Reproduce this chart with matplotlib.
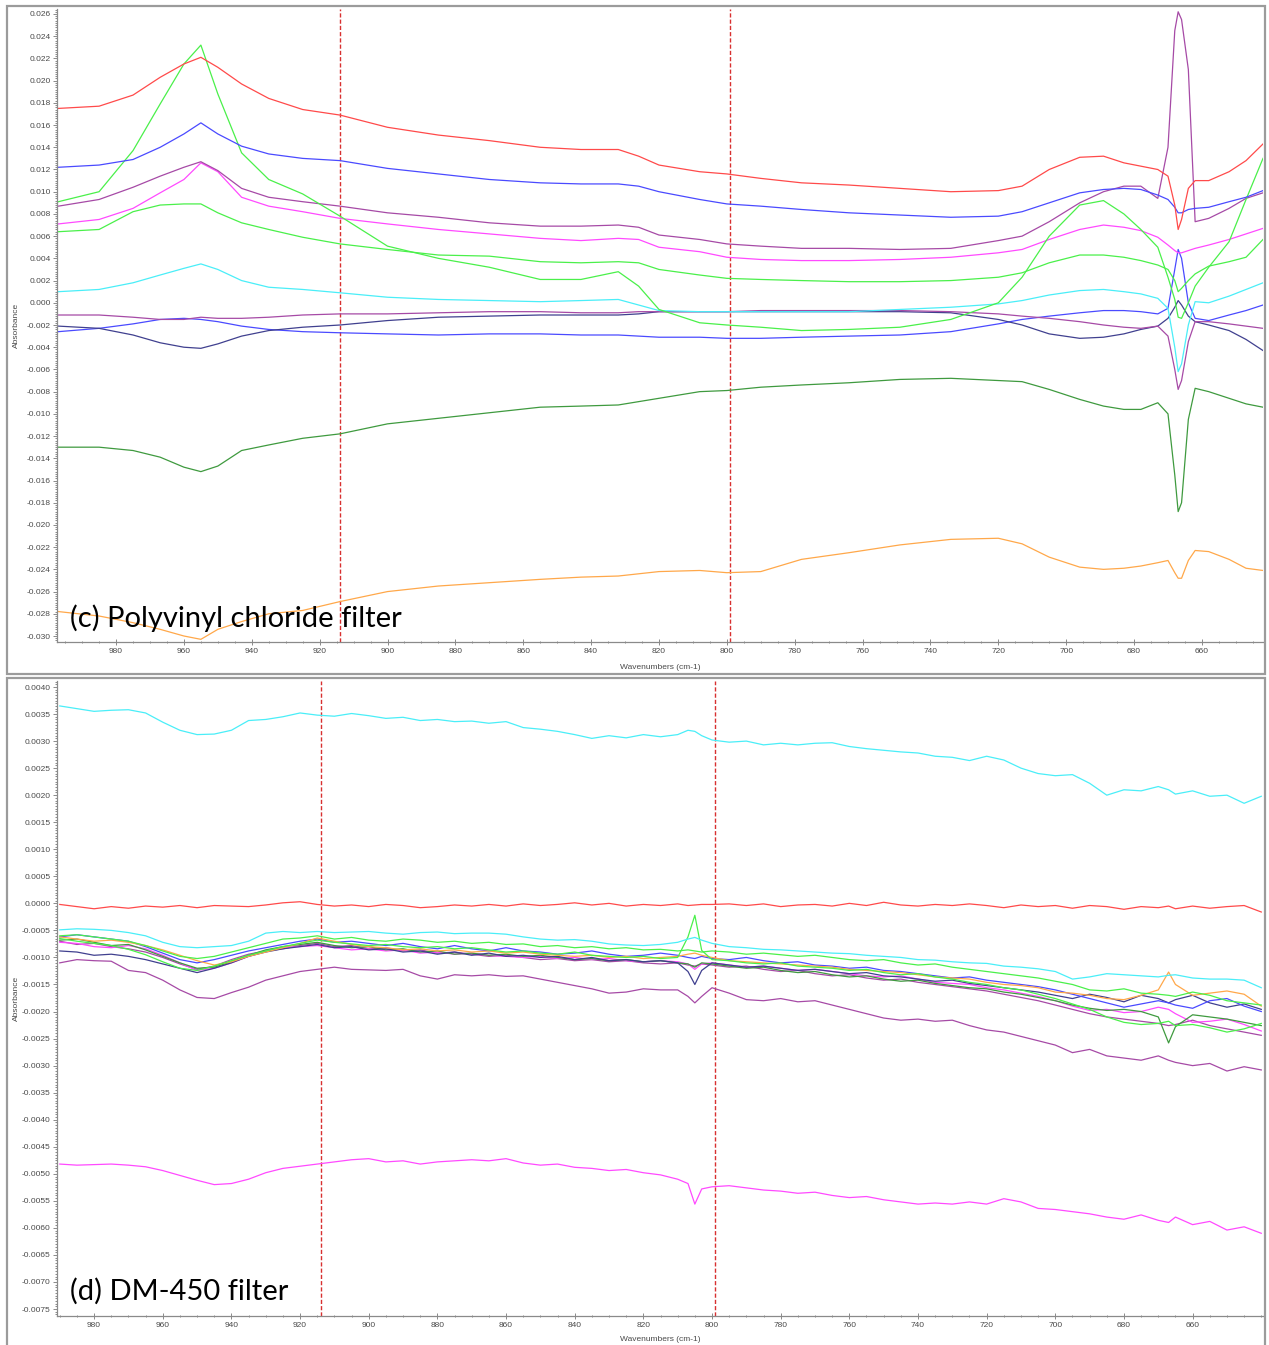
import numpy as np
import matplotlib.pyplot as plt
from matplotlib.patches import Rectangle
from matplotlib.ticker import MultipleLocator, FuncFormatter

# ---- panel (c): PVC filter, absorbance ----
WN_C = [997, 985, 975, 967, 960, 955, 950, 943, 935, 925,
        914, 900, 885, 870, 855, 843, 832, 826, 820, 808,
        800, 790, 778, 764, 749, 734, 720, 713, 705, 696,
        689, 683, 678, 673, 670, 668, 667, 666, 664, 662,
        658, 652, 647, 642]

C_RED = [0.0175, 0.0177, 0.0187, 0.0203, 0.0215, 0.0221, 0.0212, 0.0197, 0.0184, 0.0174,
         0.0169, 0.0158, 0.0151, 0.0146, 0.0140, 0.0138, 0.0138, 0.0132, 0.0124, 0.0118,
         0.0116, 0.0112, 0.0108, 0.0106, 0.0103, 0.0100, 0.0101, 0.0105, 0.0120, 0.0131,
         0.0132, 0.0126, 0.0123, 0.0120, 0.0114, 0.0088, 0.0066, 0.0075, 0.0103, 0.0110,
         0.0110, 0.0118, 0.0128, 0.0143]
C_BLUE = [0.0122, 0.0124, 0.0129, 0.0140, 0.0152, 0.0162, 0.0152, 0.0141, 0.0134, 0.0130,
          0.0128, 0.0121, 0.0116, 0.0111, 0.0108, 0.0107, 0.0107, 0.0105, 0.0100, 0.0093,
          0.0089, 0.0087, 0.0084, 0.0081, 0.0079, 0.0077, 0.0078, 0.0082, 0.0090, 0.0099,
          0.0102, 0.0103, 0.0102, 0.0097, 0.0093, 0.0086, 0.0081, 0.0081, 0.0084, 0.0085,
          0.0086, 0.0091, 0.0095, 0.0101]
C_GREEN1 = [0.0091, 0.0100, 0.0137, 0.0179, 0.0215, 0.0232, 0.0188, 0.0135, 0.0111, 0.0098,
            0.0078, 0.0051, 0.0040, 0.0032, 0.0021, 0.0021, 0.0028, 0.0015, -0.0006, -0.0018,
            -0.0020, -0.0022, -0.0025, -0.0024, -0.0022, -0.0015, 0.0000, 0.0023, 0.0060, 0.0088,
            0.0092, 0.0080, 0.0066, 0.0050, 0.0023, 0.0003, -0.0013, -0.0014, 0.0000, 0.0015,
            0.0032, 0.0055, 0.0093, 0.0130]
C_PURPLE1 = [0.0087, 0.0093, 0.0104, 0.0114, 0.0122, 0.0127, 0.0119, 0.0103, 0.0095, 0.0091,
             0.0087, 0.0081, 0.0077, 0.0072, 0.0069, 0.0069, 0.0070, 0.0068, 0.0061, 0.0057,
             0.0053, 0.0051, 0.0049, 0.0049, 0.0048, 0.0049, 0.0056, 0.0060, 0.0073, 0.0090,
             0.0100, 0.0105, 0.0105, 0.0094, 0.0140, 0.0245, 0.0262, 0.0255, 0.0210, 0.0073,
             0.0076, 0.0085, 0.0094, 0.0099]
C_MAGENTA = [0.0071, 0.0075, 0.0085, 0.0099, 0.0111, 0.0126, 0.0118, 0.0095, 0.0087, 0.0082,
             0.0076, 0.0071, 0.0066, 0.0062, 0.0058, 0.0056, 0.0058, 0.0057, 0.0050, 0.0046,
             0.0041, 0.0039, 0.0038, 0.0038, 0.0039, 0.0041, 0.0045, 0.0048, 0.0057, 0.0066,
             0.0070, 0.0068, 0.0065, 0.0059, 0.0052, 0.0047, 0.0045, 0.0045, 0.0047, 0.0049,
             0.0052, 0.0057, 0.0062, 0.0067]
C_GREEN2 = [0.0064, 0.0066, 0.0082, 0.0088, 0.0089, 0.0089, 0.0081, 0.0072, 0.0066, 0.0059,
            0.0053, 0.0048, 0.0043, 0.0042, 0.0037, 0.0036, 0.0037, 0.0036, 0.0030, 0.0025,
            0.0022, 0.0021, 0.0020, 0.0019, 0.0019, 0.0020, 0.0023, 0.0027, 0.0036, 0.0043,
            0.0043, 0.0041, 0.0038, 0.0034, 0.0030, 0.0020, 0.0010, 0.0013, 0.0020, 0.0026,
            0.0033, 0.0037, 0.0041, 0.0057]
C_CYAN = [0.0010, 0.0012, 0.0018, 0.0025, 0.0031, 0.0035, 0.0030, 0.0020, 0.0014, 0.0012,
          0.0009, 0.0005, 0.0003, 0.0002, 0.0001, 0.0002, 0.0003, -0.0002, -0.0007, -0.0008,
          -0.0008, -0.0008, -0.0008, -0.0008, -0.0006, -0.0004, -0.0001, 0.0002, 0.0007, 0.0011,
          0.0012, 0.0010, 0.0008, 0.0004, -0.0005, -0.0040, -0.0062, -0.0055, -0.0020, 0.0001,
          0.0000, 0.0006, 0.0012, 0.0018]
C_PURPLE2 = [-0.0011, -0.0011, -0.0013, -0.0015, -0.0015, -0.0013, -0.0014, -0.0014, -0.0013, -0.0011,
             -0.0010, -0.0010, -0.0009, -0.0008, -0.0008, -0.0009, -0.0009, -0.0008, -0.0008, -0.0008,
             -0.0008, -0.0007, -0.0007, -0.0007, -0.0007, -0.0008, -0.0010, -0.0012, -0.0014, -0.0017,
             -0.0020, -0.0022, -0.0023, -0.0021, -0.0030, -0.0060, -0.0078, -0.0070, -0.0035, -0.0017,
             -0.0017, -0.0019, -0.0021, -0.0023]
C_NAVY = [-0.0021, -0.0023, -0.0029, -0.0036, -0.0040, -0.0041, -0.0037, -0.0030, -0.0025, -0.0022,
          -0.0020, -0.0016, -0.0013, -0.0012, -0.0011, -0.0011, -0.0011, -0.0010, -0.0008, -0.0008,
          -0.0008, -0.0008, -0.0008, -0.0008, -0.0008, -0.0009, -0.0015, -0.0020, -0.0028, -0.0032,
          -0.0031, -0.0028, -0.0024, -0.0021, -0.0014, -0.0004, 0.0002, -0.0002, -0.0012, -0.0017,
          -0.0020, -0.0025, -0.0033, -0.0043]
C_BLUE2 = [-0.0026, -0.0023, -0.0019, -0.0015, -0.0014, -0.0015, -0.0017, -0.0021, -0.0024, -0.0026,
           -0.0027, -0.0028, -0.0029, -0.0028, -0.0028, -0.0029, -0.0029, -0.0030, -0.0031, -0.0031,
           -0.0032, -0.0032, -0.0031, -0.0030, -0.0029, -0.0026, -0.0019, -0.0015, -0.0012, -0.0009,
           -0.0007, -0.0007, -0.0008, -0.0010, -0.0005, 0.0030, 0.0048, 0.0040, 0.0000, -0.0014,
           -0.0016, -0.0011, -0.0007, -0.0002]
C_DKGREEN = [-0.0130, -0.0130, -0.0133, -0.0139, -0.0148, -0.0152, -0.0147, -0.0133, -0.0128, -0.0122,
             -0.0118, -0.0109, -0.0104, -0.0099, -0.0094, -0.0093, -0.0092, -0.0089, -0.0086, -0.0080,
             -0.0079, -0.0076, -0.0074, -0.0072, -0.0069, -0.0068, -0.0070, -0.0071, -0.0078, -0.0087,
             -0.0093, -0.0096, -0.0096, -0.0090, -0.0100, -0.0155, -0.0188, -0.0180, -0.0105, -0.0077,
             -0.0080, -0.0086, -0.0091, -0.0094]
C_ORANGE = [-0.0278, -0.0282, -0.0288, -0.0294, -0.0300, -0.0303, -0.0294, -0.0287, -0.0280, -0.0277,
            -0.0269, -0.0260, -0.0255, -0.0252, -0.0249, -0.0247, -0.0246, -0.0244, -0.0242, -0.0241,
            -0.0243, -0.0242, -0.0231, -0.0225, -0.0218, -0.0213, -0.0212, -0.0217, -0.0229, -0.0238,
            -0.0240, -0.0239, -0.0237, -0.0234, -0.0232, -0.0243, -0.0248, -0.0248, -0.0232, -0.0223,
            -0.0224, -0.0231, -0.0239, -0.0241]

# ---- panel (d): DM-450 filter ----
WN_D = [990, 985, 980, 975, 970, 965, 960, 955, 950, 945,
        940, 935, 930, 925, 920, 915, 910, 905, 900, 895,
        890, 885, 880, 875, 870, 865, 860, 855, 850, 845,
        840, 835, 830, 825, 820, 815, 810, 807, 805, 803,
        800, 795, 790, 785, 780, 775, 770, 765, 760, 755,
        750, 745, 740, 735, 730, 725, 720, 715, 710, 705,
        700, 695, 690, 685, 680, 675, 670, 667, 665, 660,
        655, 650, 645, 640]

D_CYAN = [0.00365, 0.00360, 0.00355, 0.00357, 0.00358, 0.00352, 0.00335, 0.00320, 0.00312, 0.00313,
          0.00320, 0.00338, 0.00340, 0.00345, 0.00352, 0.00348, 0.00346, 0.00351, 0.00347, 0.00342,
          0.00344, 0.00338, 0.00340, 0.00336, 0.00337, 0.00333, 0.00336, 0.00325, 0.00322, 0.00318,
          0.00312, 0.00305, 0.00310, 0.00306, 0.00312, 0.00308, 0.00312, 0.00320, 0.00318, 0.00310,
          0.00302, 0.00298, 0.00300, 0.00293, 0.00296, 0.00293, 0.00296, 0.00297, 0.00290, 0.00286,
          0.00283, 0.00280, 0.00278, 0.00272, 0.00270, 0.00264, 0.00272, 0.00265, 0.00250, 0.00240,
          0.00236, 0.00238, 0.00222, 0.00200, 0.00210, 0.00208, 0.00216, 0.00210, 0.00202, 0.00208,
          0.00198, 0.00200, 0.00185, 0.00198]
D_RED = [-0.00002, -0.00006, -0.00010, -0.00006, -0.00009, -0.00005, -0.00007, -0.00004, -0.00008, -0.00004,
         -0.00005, -0.00006, -0.00003, 0.00001, 0.00003, -0.00002, -0.00005, -0.00003, -0.00006, -0.00002,
         -0.00004, -0.00008, -0.00006, -0.00003, -0.00005, -0.00002, -0.00005, -0.00001, -0.00004, -0.00002,
         0.00001, -0.00003, 0.00000, -0.00005, -0.00002, -0.00004, -0.00001, -0.00004, -0.00003, -0.00002,
         -0.00002, -0.00001, -0.00004, -0.00001, -0.00006, -0.00003, -0.00002, -0.00005, 0.00000, -0.00004,
         0.00002, -0.00003, -0.00005, -0.00002, -0.00004, -0.00001, -0.00004, -0.00008, -0.00003, -0.00006,
         -0.00004, -0.00009, -0.00004, -0.00006, -0.00011, -0.00006, -0.00008, -0.00005, -0.00010, -0.00005,
         -0.00009, -0.00006, -0.00004, -0.00016]
D_CYAN2 = [-0.00049, -0.00047, -0.00048, -0.00050, -0.00054, -0.00060, -0.00072, -0.00080, -0.00082, -0.00080,
           -0.00078, -0.00070, -0.00055, -0.00052, -0.00054, -0.00052, -0.00054, -0.00053, -0.00052, -0.00055,
           -0.00057, -0.00054, -0.00053, -0.00056, -0.00055, -0.00055, -0.00057, -0.00062, -0.00066, -0.00068,
           -0.00067, -0.00070, -0.00075, -0.00077, -0.00078, -0.00076, -0.00072, -0.00066, -0.00063, -0.00068,
           -0.00074, -0.00080, -0.00082, -0.00085, -0.00086, -0.00088, -0.00090, -0.00092, -0.00093, -0.00096,
           -0.00098, -0.00100, -0.00104, -0.00105, -0.00108, -0.00110, -0.00111, -0.00116, -0.00118, -0.00121,
           -0.00126, -0.00140, -0.00136, -0.00130, -0.00132, -0.00134, -0.00136, -0.00133, -0.00132, -0.00138,
           -0.00140, -0.00140, -0.00142, -0.00156]
D_GREEN1 = [-0.00060, -0.00058, -0.00062, -0.00066, -0.00070, -0.00078, -0.00088, -0.00098, -0.00102, -0.00098,
            -0.00090, -0.00082, -0.00074, -0.00066, -0.00064, -0.00060, -0.00066, -0.00063, -0.00068, -0.00070,
            -0.00066, -0.00068, -0.00072, -0.00070, -0.00074, -0.00072, -0.00076, -0.00075, -0.00080, -0.00078,
            -0.00082, -0.00080, -0.00084, -0.00082, -0.00086, -0.00085, -0.00088, -0.00086, -0.00088, -0.00090,
            -0.00088, -0.00090, -0.00094, -0.00092, -0.00095, -0.00098, -0.00096, -0.00100, -0.00104, -0.00106,
            -0.00104, -0.00110, -0.00114, -0.00112, -0.00118, -0.00122, -0.00126, -0.00130, -0.00134, -0.00138,
            -0.00144, -0.00150, -0.00160, -0.00162, -0.00158, -0.00166, -0.00168, -0.00170, -0.00172, -0.00164,
            -0.00170, -0.00180, -0.00184, -0.00188]
D_GREEN2 = [-0.00065, -0.00070, -0.00074, -0.00078, -0.00085, -0.00095, -0.00108, -0.00120, -0.00124, -0.00116,
            -0.00106, -0.00096, -0.00088, -0.00080, -0.00074, -0.00068, -0.00072, -0.00075, -0.00078, -0.00076,
            -0.00080, -0.00082, -0.00080, -0.00084, -0.00082, -0.00086, -0.00090, -0.00088, -0.00092, -0.00094,
            -0.00090, -0.00096, -0.00098, -0.00100, -0.00098, -0.00102, -0.00100, -0.00062, -0.00022, -0.00087,
            -0.00104, -0.00106, -0.00110, -0.00112, -0.00110, -0.00116, -0.00118, -0.00120, -0.00124, -0.00122,
            -0.00128, -0.00132, -0.00130, -0.00136, -0.00140, -0.00146, -0.00150, -0.00156, -0.00160, -0.00168,
            -0.00176, -0.00186, -0.00196, -0.00210, -0.00220, -0.00224, -0.00222, -0.00218, -0.00226, -0.00224,
            -0.00230, -0.00238, -0.00232, -0.00222]
D_ORANGE = [-0.00062, -0.00066, -0.00070, -0.00068, -0.00072, -0.00078, -0.00086, -0.00096, -0.00106, -0.00114,
            -0.00108, -0.00098, -0.00090, -0.00082, -0.00074, -0.00064, -0.00070, -0.00076, -0.00080, -0.00082,
            -0.00086, -0.00084, -0.00088, -0.00086, -0.00090, -0.00088, -0.00092, -0.00090, -0.00094, -0.00096,
            -0.00098, -0.00096, -0.00100, -0.00098, -0.00102, -0.00100, -0.00098, -0.00094, -0.00092, -0.00096,
            -0.00100, -0.00106, -0.00108, -0.00110, -0.00112, -0.00114, -0.00116, -0.00118, -0.00122, -0.00124,
            -0.00126, -0.00128, -0.00132, -0.00136, -0.00138, -0.00140, -0.00146, -0.00150, -0.00152, -0.00156,
            -0.00164, -0.00166, -0.00170, -0.00176, -0.00178, -0.00170, -0.00160, -0.00127, -0.00150, -0.00170,
            -0.00166, -0.00162, -0.00168, -0.00190]
D_BLUE = [-0.00062, -0.00058, -0.00062, -0.00066, -0.00070, -0.00080, -0.00092, -0.00104, -0.00110, -0.00104,
          -0.00096, -0.00088, -0.00082, -0.00076, -0.00070, -0.00066, -0.00072, -0.00070, -0.00074, -0.00078,
          -0.00074, -0.00080, -0.00084, -0.00078, -0.00084, -0.00088, -0.00082, -0.00088, -0.00090, -0.00094,
          -0.00092, -0.00088, -0.00094, -0.00098, -0.00096, -0.00092, -0.00096, -0.00100, -0.00102, -0.00098,
          -0.00102, -0.00104, -0.00100, -0.00106, -0.00110, -0.00108, -0.00114, -0.00116, -0.00120, -0.00118,
          -0.00124, -0.00126, -0.00130, -0.00134, -0.00138, -0.00136, -0.00142, -0.00146, -0.00150, -0.00154,
          -0.00160, -0.00168, -0.00176, -0.00184, -0.00192, -0.00186, -0.00180, -0.00184, -0.00188, -0.00194,
          -0.00180, -0.00176, -0.00190, -0.00200]
D_NAVY = [-0.00088, -0.00090, -0.00096, -0.00094, -0.00098, -0.00104, -0.00112, -0.00120, -0.00128, -0.00120,
          -0.00110, -0.00098, -0.00090, -0.00084, -0.00080, -0.00076, -0.00082, -0.00080, -0.00086, -0.00084,
          -0.00090, -0.00088, -0.00094, -0.00090, -0.00096, -0.00092, -0.00098, -0.00096, -0.00100, -0.00098,
          -0.00104, -0.00100, -0.00106, -0.00104, -0.00108, -0.00106, -0.00110, -0.00126, -0.00150, -0.00124,
          -0.00110, -0.00114, -0.00118, -0.00116, -0.00120, -0.00124, -0.00122, -0.00126, -0.00130, -0.00128,
          -0.00134, -0.00136, -0.00140, -0.00144, -0.00142, -0.00148, -0.00152, -0.00156, -0.00160, -0.00164,
          -0.00170, -0.00176, -0.00168, -0.00174, -0.00182, -0.00170, -0.00176, -0.00184, -0.00178, -0.00170,
          -0.00184, -0.00192, -0.00186, -0.00196]
D_DKGREEN = [-0.00068, -0.00066, -0.00072, -0.00078, -0.00076, -0.00086, -0.00098, -0.00110, -0.00120, -0.00118,
             -0.00108, -0.00096, -0.00086, -0.00080, -0.00076, -0.00072, -0.00078, -0.00082, -0.00080, -0.00086,
             -0.00084, -0.00090, -0.00088, -0.00094, -0.00092, -0.00096, -0.00094, -0.00098, -0.00096, -0.00100,
             -0.00104, -0.00102, -0.00106, -0.00104, -0.00108, -0.00106, -0.00110, -0.00112, -0.00118, -0.00110,
             -0.00112, -0.00116, -0.00120, -0.00118, -0.00124, -0.00128, -0.00126, -0.00132, -0.00136, -0.00134,
             -0.00140, -0.00144, -0.00142, -0.00148, -0.00152, -0.00156, -0.00158, -0.00164, -0.00168, -0.00174,
             -0.00180, -0.00188, -0.00194, -0.00198, -0.00196, -0.00200, -0.00210, -0.00258, -0.00228, -0.00206,
             -0.00210, -0.00214, -0.00220, -0.00226]
D_MAGENTA = [-0.00072, -0.00074, -0.00080, -0.00082, -0.00078, -0.00084, -0.00096, -0.00110, -0.00124, -0.00120,
             -0.00110, -0.00098, -0.00088, -0.00082, -0.00080, -0.00078, -0.00082, -0.00086, -0.00084, -0.00088,
             -0.00086, -0.00092, -0.00090, -0.00094, -0.00092, -0.00096, -0.00098, -0.00100, -0.00098, -0.00102,
             -0.00100, -0.00104, -0.00102, -0.00106, -0.00108, -0.00106, -0.00108, -0.00112, -0.00122, -0.00112,
             -0.00110, -0.00114, -0.00118, -0.00116, -0.00120, -0.00124, -0.00122, -0.00126, -0.00130, -0.00134,
             -0.00136, -0.00134, -0.00140, -0.00146, -0.00148, -0.00150, -0.00156, -0.00160, -0.00166, -0.00172,
             -0.00180, -0.00190, -0.00198, -0.00196, -0.00202, -0.00200, -0.00192, -0.00196, -0.00204, -0.00220,
             -0.00218, -0.00214, -0.00224, -0.00236]
D_PURPLE = [-0.00070, -0.00076, -0.00074, -0.00080, -0.00084, -0.00090, -0.00100, -0.00112, -0.00122, -0.00116,
            -0.00104, -0.00094, -0.00088, -0.00084, -0.00078, -0.00074, -0.00080, -0.00078, -0.00084, -0.00082,
            -0.00088, -0.00086, -0.00092, -0.00090, -0.00094, -0.00098, -0.00096, -0.00100, -0.00104, -0.00102,
            -0.00106, -0.00104, -0.00108, -0.00106, -0.00110, -0.00112, -0.00110, -0.00114, -0.00116, -0.00112,
            -0.00114, -0.00118, -0.00116, -0.00122, -0.00126, -0.00124, -0.00130, -0.00134, -0.00132, -0.00138,
            -0.00142, -0.00140, -0.00146, -0.00150, -0.00154, -0.00158, -0.00162, -0.00168, -0.00174, -0.00180,
            -0.00188, -0.00196, -0.00204, -0.00210, -0.00214, -0.00218, -0.00222, -0.00226, -0.00224, -0.00216,
            -0.00226, -0.00232, -0.00238, -0.00244]
D_PURPLE_LOW = [-0.00110, -0.00104, -0.00106, -0.00107, -0.00124, -0.00128, -0.00142, -0.00160, -0.00174, -0.00176,
                -0.00165, -0.00155, -0.00142, -0.00134, -0.00126, -0.00122, -0.00118, -0.00122, -0.00123, -0.00124,
                -0.00122, -0.00134, -0.00140, -0.00132, -0.00134, -0.00132, -0.00135, -0.00134, -0.00140, -0.00146,
                -0.00152, -0.00158, -0.00166, -0.00164, -0.00158, -0.00160, -0.00160, -0.00172, -0.00184, -0.00172,
                -0.00156, -0.00166, -0.00178, -0.00180, -0.00176, -0.00182, -0.00180, -0.00188, -0.00196, -0.00204,
                -0.00212, -0.00216, -0.00214, -0.00218, -0.00216, -0.00226, -0.00234, -0.00238, -0.00246, -0.00254,
                -0.00262, -0.00276, -0.00270, -0.00282, -0.00286, -0.00290, -0.00282, -0.00290, -0.00294, -0.00300,
                -0.00296, -0.00310, -0.00302, -0.00308]
D_MAGENTA_LOW = [-0.00482, -0.00484, -0.00483, -0.00482, -0.00484, -0.00487, -0.00494, -0.00503, -0.00512, -0.00520,
                 -0.00518, -0.00510, -0.00498, -0.00490, -0.00486, -0.00482, -0.00478, -0.00474, -0.00472, -0.00478,
                 -0.00476, -0.00482, -0.00478, -0.00476, -0.00474, -0.00476, -0.00472, -0.00480, -0.00484, -0.00482,
                 -0.00488, -0.00490, -0.00494, -0.00492, -0.00498, -0.00502, -0.00510, -0.00518, -0.00556, -0.00528,
                 -0.00524, -0.00522, -0.00526, -0.00530, -0.00532, -0.00536, -0.00534, -0.00540, -0.00544, -0.00542,
                 -0.00548, -0.00552, -0.00556, -0.00554, -0.00556, -0.00552, -0.00556, -0.00546, -0.00552, -0.00564,
                 -0.00566, -0.00570, -0.00574, -0.00580, -0.00584, -0.00576, -0.00586, -0.00590, -0.00580, -0.00594,
                 -0.00588, -0.00604, -0.00598, -0.00610]

MARKERS = [914, 799]   # dashed band limits, cm-1

# OMNIC-ish colours
RED, BLUE, GREEN, PURPLE = '#ff4a4a', '#4a4aff', '#4af04a', '#a64aa6'
MAGENTA, CYAN, NAVY, DKGREEN, ORANGE = '#ff4aff', '#4aeef8', '#40408f', '#3f9a3f', '#ffa84a'

W, H = 1269, 1345
fig = plt.figure(figsize=(W / 100, H / 100), dpi=100)

def fx(px):
    return px / W

def fy(py):
    return 1 - py / H

# grey window frames
for top, bot in [(6, 674), (678, 1360)]:
    fig.add_artist(Rectangle((fx(7), fy(bot)), fx(1258), (bot - top) / H,
                             transform=fig.transFigure, fill=False,
                             ec='#9b9b9b', lw=1.6))

ax_c = fig.add_axes([fx(57), fy(642), fx(1206), (642 - 9) / H])
ax_d = fig.add_axes([fx(57), fy(1316), fx(1206), (1316 - 681) / H])


def style(ax, xlim, ylim, ymaj, ymin, fmt, xlab_y):
    ax.set_xlim(*xlim)
    ax.set_ylim(*ylim)
    ax.set_xticks(range(660, 1000, 20))
    ax.xaxis.set_minor_locator(MultipleLocator(5))
    ax.yaxis.set_major_locator(MultipleLocator(ymaj))
    ax.yaxis.set_minor_locator(MultipleLocator(ymin))
    ax.yaxis.set_major_formatter(FuncFormatter(
        lambda v, p: fmt % (0.0 if abs(v) < 1e-9 else v)))
    for s in ['top', 'right']:
        ax.spines[s].set_visible(False)
    for s in ['left', 'bottom']:
        ax.spines[s].set_color('#8a8a8a')
        ax.spines[s].set_linewidth(0.9)
    ax.tick_params(which='both', colors='#8a8a8a', labelcolor='#4a4a4a',
                   labelsize=6, width=0.7)
    ax.tick_params(axis='x', which='major', direction='inout', length=4, pad=2.5)
    ax.tick_params(axis='x', which='minor', direction='inout', length=2)
    ax.tick_params(axis='y', which='major', direction='out', length=3, pad=1.5)
    ax.tick_params(axis='y', which='minor', direction='out', length=1.5)
    for t in ax.get_xticklabels() + ax.get_yticklabels():
        t.set_family('Liberation Sans')
    ax.set_xlabel('Wavenumbers (cm-1)', fontsize=6, color='#4a4a4a',
                  family='Liberation Sans')
    ax.xaxis.set_label_coords(0.5, xlab_y)
    ax.set_ylabel('Absorbance', fontsize=6, color='#4a4a4a',
                  family='Liberation Sans')
    ax.yaxis.set_label_coords(-0.031, 0.5)
    for m in MARKERS:
        ax.axvline(m, color='#d83030', lw=1.0, ls=(0, (3, 1.5)), zorder=1)


style(ax_c, (997.4, 642.0), (-0.03054, 0.02645), 0.002, 0.0002, '%.3f', -0.034)
style(ax_d, (990.8, 639.5), (-0.007629, 0.004111), 0.0005, 0.00005, '%.4f', -0.031)

lw = 0.9
for ys, col in [(C_ORANGE, ORANGE), (C_DKGREEN, DKGREEN), (C_BLUE2, BLUE),
                (C_NAVY, NAVY), (C_PURPLE2, PURPLE), (C_CYAN, CYAN),
                (C_GREEN2, GREEN), (C_MAGENTA, MAGENTA), (C_PURPLE1, PURPLE),
                (C_GREEN1, GREEN), (C_BLUE, BLUE), (C_RED, RED)]:
    ax_c.plot(WN_C, ys, color=col, lw=lw, zorder=2)

for ys, col in [(D_MAGENTA_LOW, MAGENTA), (D_PURPLE_LOW, PURPLE),
                (D_PURPLE, PURPLE), (D_MAGENTA, MAGENTA), (D_DKGREEN, DKGREEN),
                (D_NAVY, NAVY), (D_BLUE, BLUE), (D_ORANGE, ORANGE),
                (D_GREEN2, GREEN), (D_GREEN1, GREEN), (D_CYAN2, CYAN),
                (D_RED, RED), (D_CYAN, CYAN)]:
    ax_d.plot(WN_D, ys, color=col, lw=lw, zorder=2)

fig.text(fx(70), fy(618), '(c) Polyvinyl chloride filter', fontsize=21,
         family='Lato', va='center', ha='left', color='black')
fig.text(fx(70), fy(1291), '(d) DM-450 filter', fontsize=21,
         family='Lato', va='center', ha='left', color='black')

fig.savefig('out.png', dpi=100)
